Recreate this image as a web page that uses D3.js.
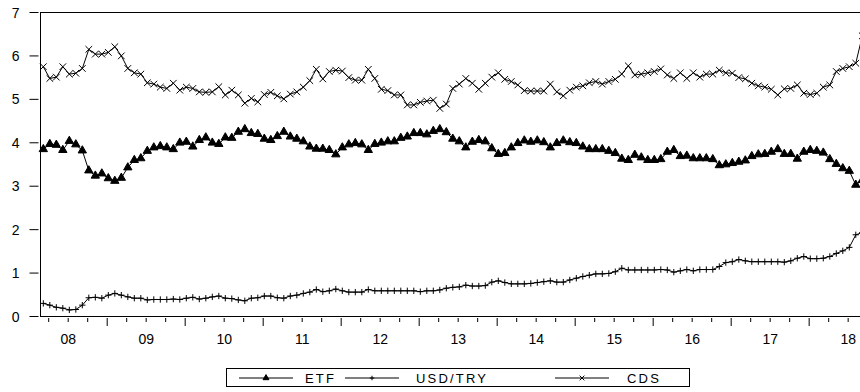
<!DOCTYPE html>
<html>
<head>
<meta charset="utf-8">
<script src="https://cdn.jsdelivr.net/npm/d3@7"></script>
<style>
  html, body { margin: 0; padding: 0; background: #fff; }
  svg { display: block; }
  text { font-family: "Liberation Sans", Arial, sans-serif; fill: #000; }
</style>
</head>
<body>
<svg id="chart" width="860" height="392"></svg>
<script>
// Monthly series (log levels), 2008M03 – 2018M09
const startYear = 2008, startMonth = 3;

const etf = [
  3.84,3.96,3.94,3.82,4.03,3.95,3.81,3.35,3.23,3.28,
  3.17,3.11,3.18,3.42,3.59,3.63,3.80,3.88,3.91,3.88,
  3.84,3.99,4.01,3.90,4.05,4.11,3.99,3.96,4.11,4.10,
  4.24,4.30,4.21,4.19,4.08,4.05,4.14,4.24,4.13,4.08,
  4.02,3.90,3.85,3.85,3.82,3.72,3.88,3.95,3.98,3.95,
  3.82,3.96,3.99,4.02,4.02,4.10,4.13,4.21,4.21,4.18,
  4.26,4.30,4.23,4.08,4.02,3.88,4.01,4.05,4.02,3.86,
  3.73,3.75,3.88,3.98,4.04,4.01,4.04,4.00,3.88,3.98,
  4.04,4.00,3.98,3.90,3.84,3.84,3.84,3.80,3.75,3.62,
  3.59,3.71,3.65,3.59,3.59,3.61,3.78,3.82,3.68,3.69,
  3.63,3.63,3.63,3.61,3.47,3.49,3.52,3.55,3.58,3.68,
  3.72,3.73,3.78,3.84,3.73,3.73,3.62,3.78,3.82,3.80,
  3.76,3.61,3.50,3.40,3.34,3.02,3.13
];

const usdTry = [
  0.29,0.25,0.20,0.18,0.14,0.15,0.25,0.42,0.43,0.41,
  0.48,0.52,0.48,0.44,0.41,0.41,0.37,0.38,0.38,0.38,
  0.39,0.38,0.41,0.43,0.39,0.41,0.44,0.46,0.41,0.40,
  0.37,0.35,0.41,0.42,0.46,0.46,0.42,0.41,0.46,0.48,
  0.52,0.55,0.61,0.56,0.58,0.62,0.58,0.55,0.55,0.55,
  0.61,0.58,0.58,0.58,0.58,0.58,0.58,0.58,0.56,0.58,
  0.58,0.60,0.64,0.66,0.67,0.71,0.69,0.69,0.70,0.78,
  0.81,0.77,0.74,0.74,0.74,0.75,0.77,0.79,0.81,0.78,
  0.78,0.83,0.87,0.91,0.94,0.97,0.97,0.98,1.02,1.10,
  1.06,1.06,1.06,1.06,1.06,1.07,1.06,1.01,1.04,1.07,
  1.04,1.07,1.07,1.07,1.14,1.23,1.25,1.30,1.27,1.25,
  1.25,1.25,1.25,1.25,1.24,1.27,1.33,1.37,1.32,1.32,
  1.33,1.37,1.44,1.50,1.58,1.87,1.92
];

const cds = [
  5.74,5.47,5.50,5.74,5.57,5.59,5.70,6.14,6.03,6.03,
  6.07,6.20,5.99,5.70,5.60,5.57,5.37,5.34,5.27,5.24,
  5.36,5.20,5.27,5.24,5.16,5.15,5.16,5.28,5.09,5.20,
  5.09,4.90,5.01,4.93,5.10,5.15,5.07,5.00,5.11,5.16,
  5.27,5.42,5.68,5.46,5.63,5.66,5.64,5.49,5.43,5.43,
  5.68,5.47,5.22,5.19,5.09,5.09,4.86,4.86,4.92,4.95,
  4.97,4.78,4.88,5.24,5.34,5.47,5.36,5.22,5.36,5.50,
  5.60,5.45,5.40,5.32,5.19,5.18,5.18,5.18,5.34,5.16,
  5.07,5.20,5.27,5.30,5.37,5.40,5.34,5.40,5.45,5.57,
  5.76,5.55,5.57,5.60,5.63,5.69,5.55,5.47,5.60,5.47,
  5.60,5.50,5.57,5.57,5.66,5.60,5.59,5.49,5.46,5.36,
  5.30,5.27,5.22,5.09,5.23,5.24,5.32,5.13,5.10,5.13,
  5.27,5.32,5.63,5.70,5.74,5.82,6.45
];

const yTicks = [0, 1, 2, 3, 4, 5, 6, 7];
const yearLabels = ["08","09","10","11","12","13","14","15","16","17","18"];
const legendNames = ["ETF", "USD/TRY", "CDS"];

// observation time in decimal years
const obsTime = etf.map((_, i) => startYear + (startMonth - 1 + i + 0.25) / 12);

const svg = d3.select("#chart");
const plot = { left: 40, right: 866, top: 12, bottom: 316 };

const x = d3.scaleLinear()
  .domain([2008.145, 2018.735])
  .range([plot.left, plot.right]);
const y = d3.scaleLinear()
  .domain([0, 7])
  .range([plot.bottom, plot.top]);

// frame
svg.append("rect")
  .attr("x", plot.left + 0.5).attr("y", plot.top + 0.5)
  .attr("width", plot.right - plot.left).attr("height", plot.bottom - plot.top)
  .attr("fill", "none").attr("stroke", "#000").attr("stroke-width", 1);

// left axis
const yAxis = d3.axisLeft(y).tickValues(yTicks).tickSize(9).tickPadding(10)
  .tickFormat(d3.format("d"));
const gy = svg.append("g").attr("transform", `translate(${plot.left - 1.5},0)`).call(yAxis);
gy.select(".domain").remove();
gy.selectAll("line").attr("stroke", "#000");
gy.selectAll("text").style("font-size", "14px").attr("dy", "0.36em");

// bottom axis: years (major) and quarters (minor), offset below the frame
const years = d3.range(2009, 2019);
const quarters = d3.range(2008, 2019).flatMap(yr => [yr + 0.25, yr + 0.5, yr + 0.75])
  .filter(t => x(t) >= plot.left && x(t) <= 860);
const axisY = plot.bottom + 2;

const gxMinor = svg.append("g").attr("transform", `translate(0,${axisY})`)
  .call(d3.axisBottom(x).tickValues(quarters).tickSize(4).tickFormat(""));
gxMinor.select(".domain").remove();
const gxMajor = svg.append("g").attr("transform", `translate(0,${axisY})`)
  .call(d3.axisBottom(x).tickValues(years).tickSize(8).tickFormat(""));
gxMajor.select(".domain").remove();
svg.selectAll(".tick line").attr("stroke", "#000").attr("stroke-width", 1);

const gxLab = svg.append("g").attr("transform", `translate(0,${axisY})`)
  .call(d3.axisBottom(x).tickValues(yearLabels.map((_, k) => 2008.5 + k))
    .tickSize(0).tickPadding(16).tickFormat((d, k) => yearLabels[k]));
gxLab.select(".domain").remove();
gxLab.selectAll("text").style("font-size", "14px");

// markers
const markerPath = {
  tri: s => d3.symbol(d3.symbolTriangle, s)(),
  plus: s => { const r = Math.sqrt(s) / 2; return `M${-r},0H${r}M0,${-r}V${r}`; },
  cross: s => { const r = Math.sqrt(s) / 2; return `M${-r},${-r}L${r},${r}M${-r},${r}L${r},${-r}`; }
};

const series = [
  { name: legendNames[0], values: etf, marker: "tri", size: 30, fill: "#000" },
  { name: legendNames[1], values: usdTry, marker: "plus", size: 40, fill: "none" },
  { name: legendNames[2], values: cds, marker: "cross", size: 44, fill: "none" }
];

const line = d3.line().x((d, i) => x(obsTime[i])).y(d => y(d));

series.forEach(s => {
  const g = svg.append("g");
  g.append("path").datum(s.values).attr("d", line)
    .attr("fill", "none").attr("stroke", "#000").attr("stroke-width", 1);
  g.selectAll("path.m").data(s.values).join("path").attr("class", "m")
    .attr("transform", (d, i) => `translate(${x(obsTime[i])},${y(d)})`)
    .attr("d", markerPath[s.marker](s.size))
    .attr("fill", s.fill).attr("stroke", "#000").attr("stroke-width", 1);
});

// legend
const leg = svg.append("g");
leg.append("rect").attr("x", 226.5).attr("y", 368.5).attr("width", 463).attr("height", 18)
  .attr("fill", "none").attr("stroke", "#000");
const legItems = [
  { lx: 239, tx: 305 },
  { lx: 345, tx: 416 },
  { lx: 555, tx: 627 }
];
series.forEach((s, k) => {
  const it = legItems[k];
  const g = leg.append("g");
  g.append("line").attr("x1", it.lx).attr("x2", it.lx + 54).attr("y1", 378).attr("y2", 378)
    .attr("stroke", "#000");
  g.append("path").attr("transform", `translate(${it.lx + 27},378)`)
    .attr("d", markerPath[s.marker](s.size * 0.5))
    .attr("fill", s.fill).attr("stroke", "#000");
  g.append("text").attr("x", it.tx).attr("y", 383).style("font-size", "13px")
    .style("letter-spacing", "2.2px").text(s.name);
});
</script>
</body>
</html>
